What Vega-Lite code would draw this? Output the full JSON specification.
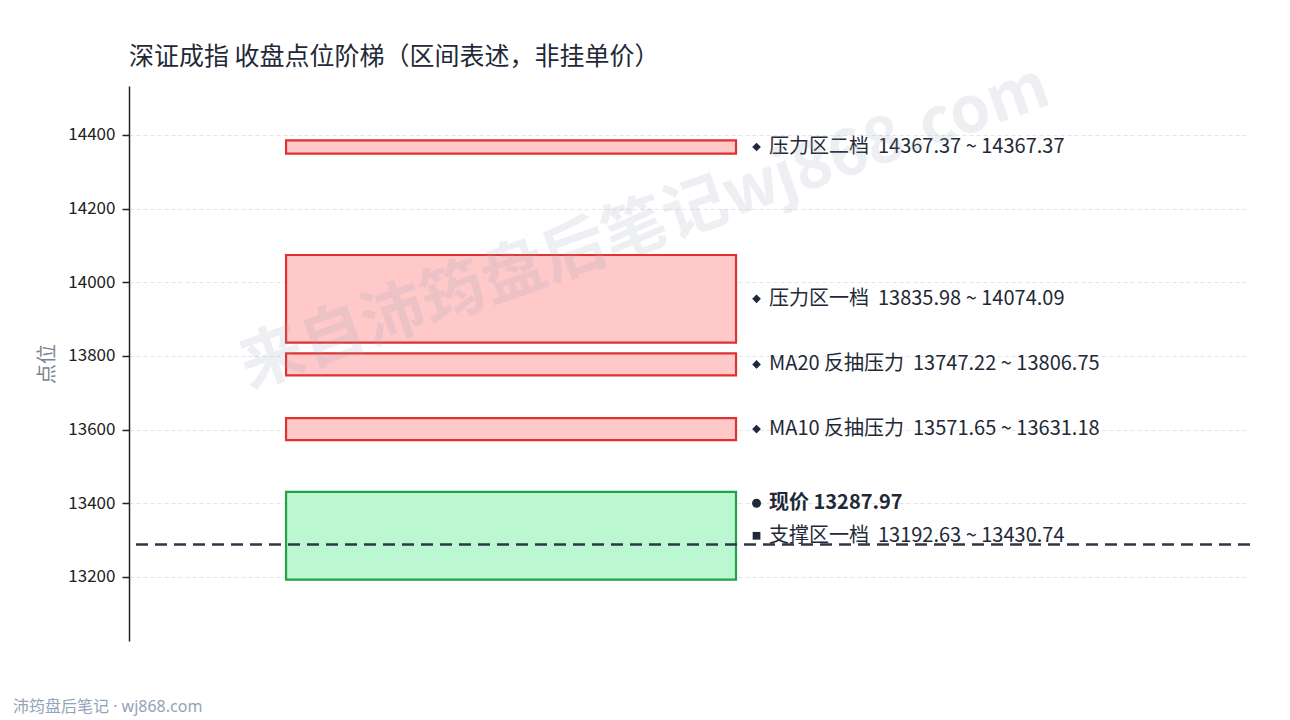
{
  "$schema": "https://vega.github.io/schema/vega-lite/v6.json",
  "width": 1121,
  "height": 555,
  "autosize": {"type": "none"},
  "padding": {"left": 129, "top": 86, "right": 40, "bottom": 79},
  "background": "white",
  "config": {
    "font": "Noto Sans CJK SC",
    "view": {"stroke": null},
    "axisY": {
      "domainColor": "#222222",
      "domainWidth": 1.5,
      "tickColor": "#222222",
      "tickWidth": 1.5,
      "tickSize": 7,
      "labelFontSize": 17,
      "labelColor": "#222222",
      "labelPadding": 7,
      "labelFont": "Noto Sans CJK SC",
      "gridColor": "#e2e4e8",
      "gridDash": [4, 3],
      "gridWidth": 1,
      "titleFontSize": 20,
      "titleFontWeight": "normal",
      "titleColor": "#7b8494",
      "titleFont": "Noto Sans CJK SC",
      "titlePadding": 10
    }
  },
  "title": {
    "text": "深证成指 收盘点位阶梯（区间表述，非挂单价）",
    "anchor": "start",
    "frame": "group",
    "fontSize": 25,
    "font": "Noto Sans CJK SC",
    "fontWeight": "normal",
    "color": "#1f2937",
    "offset": 18,
    "dy": 32
  },
  "datasets": {
    "zones": [
      {"name": "压力区二档", "lo": 14367.37, "hi": 14367.37, "bar_lo": 14349.6, "bar_hi": 14385.1, "kind": "resist", "label": "压力区二档 \u00a014367.37 ~ 14367.37", "label_y": 14367.37},
      {"name": "压力区一档", "lo": 13835.98, "hi": 14074.09, "bar_lo": 13835.98, "bar_hi": 14074.09, "kind": "resist", "label": "压力区一档 \u00a013835.98 ~ 14074.09", "label_y": 13955.0},
      {"name": "MA20 反抽压力", "lo": 13747.22, "hi": 13806.75, "bar_lo": 13747.22, "bar_hi": 13806.75, "kind": "resist", "label": "MA20 反抽压力 \u00a013747.22 ~ 13806.75", "label_y": 13777.0},
      {"name": "MA10 反抽压力", "lo": 13571.65, "hi": 13631.18, "bar_lo": 13571.65, "bar_hi": 13631.18, "kind": "resist", "label": "MA10 反抽压力 \u00a013571.65 ~ 13631.18", "label_y": 13601.4},
      {"name": "支撑区一档", "lo": 13192.63, "hi": 13430.74, "bar_lo": 13192.63, "bar_hi": 13430.74, "kind": "support", "label": "支撑区一档 \u00a013192.63 ~ 13430.74", "label_y": 13311.7}
    ],
    "price": [
      {"name": "现价", "value": 13287.97, "kind": "price", "label": "现价 13287.97", "label_y": 13400}
    ],
    "watermark": [
      {"text": "来自沛筠盘后笔记wj868.com", "x": 0.4603, "y": 14147}
    ],
    "footer": [
      {"text": "沛筠盘后笔记 · wj868.com", "x": -0.1035, "y": 12847}
    ]
  },
  "layer": [
    {
      "data": {"name": "zones"},
      "mark": {"type": "rect", "strokeWidth": 2.2},
      "encoding": {
        "x": {"datum": 0.1401, "type": "quantitative", "scale": {"domain": [0, 1]}, "axis": null},
        "x2": {"datum": 0.5415},
        "y": {
          "field": "bar_lo", "type": "quantitative", "title": "点位",
          "scale": {"domain": [13026, 14533], "nice": false, "zero": false},
          "axis": {"values": [13200, 13400, 13600, 13800, 14000, 14200, 14400], "format": "d", "grid": true, "title": "点位"}
        },
        "y2": {"field": "bar_hi"},
        "fill": {"field": "kind", "type": "nominal", "scale": {"domain": ["resist", "support"], "range": ["#ffc9c9", "#bbf7d0"]}, "legend": null},
        "stroke": {"field": "kind", "type": "nominal", "scale": {"domain": ["resist", "support"], "range": ["#e03131", "#22a34a"]}, "legend": null}
      }
    },
    {
      "data": {"name": "price"},
      "mark": {"type": "rule", "color": "#2d3748", "strokeWidth": 2.3, "strokeDash": [12, 7]},
      "encoding": {
        "y": {"field": "value", "type": "quantitative", "title": "点位"}
      }
    },
    {
      "data": {"name": "zones"},
      "mark": {"type": "point", "shape": "diamond", "filled": true, "color": "#1f2937", "size": 75, "opacity": 1},
      "transform": [{"filter": "datum.kind === 'resist'"}],
      "encoding": {
        "x": {"datum": 0.5598, "type": "quantitative"},
        "y": {"field": "label_y", "type": "quantitative", "title": "点位"}
      }
    },
    {
      "data": {"name": "zones"},
      "mark": {"type": "point", "shape": "square", "filled": true, "color": "#1f2937", "size": 60, "opacity": 1},
      "transform": [{"filter": "datum.kind === 'support'"}],
      "encoding": {
        "x": {"datum": 0.5598, "type": "quantitative"},
        "y": {"field": "label_y", "type": "quantitative", "title": "点位"}
      }
    },
    {
      "data": {"name": "price"},
      "mark": {"type": "point", "shape": "circle", "filled": true, "color": "#1f2937", "size": 80, "opacity": 1},
      "encoding": {
        "x": {"datum": 0.5598, "type": "quantitative"},
        "y": {"field": "label_y", "type": "quantitative", "title": "点位"}
      }
    },
    {
      "data": {"name": "zones"},
      "mark": {"type": "text", "align": "left", "baseline": "middle", "fontSize": 20, "color": "#1f2937", "font": "Noto Sans CJK SC"},
      "encoding": {
        "x": {"datum": 0.5709, "type": "quantitative"},
        "y": {"field": "label_y", "type": "quantitative", "title": "点位"},
        "text": {"field": "label"}
      }
    },
    {
      "data": {"name": "price"},
      "mark": {"type": "text", "align": "left", "baseline": "middle", "fontSize": 20, "fontWeight": "bold", "color": "#1f2937", "font": "Noto Sans CJK SC"},
      "encoding": {
        "x": {"datum": 0.5709, "type": "quantitative"},
        "y": {"field": "label_y", "type": "quantitative", "title": "点位"},
        "text": {"field": "label"}
      }
    },
    {
      "data": {"name": "watermark"},
      "mark": {"type": "text", "align": "center", "baseline": "middle", "fontSize": 64, "fontWeight": "bold", "angle": -19.5, "color": "#94a3b8", "opacity": 0.16, "font": "Noto Sans CJK SC"},
      "encoding": {
        "x": {"field": "x", "type": "quantitative"},
        "y": {"field": "y", "type": "quantitative", "title": "点位"},
        "text": {"field": "text"}
      }
    },
    {
      "data": {"name": "footer"},
      "mark": {"type": "text", "align": "left", "baseline": "middle", "fontSize": 16, "color": "#94a3b8", "font": "Noto Sans, Noto Sans CJK SC"},
      "encoding": {
        "x": {"field": "x", "type": "quantitative"},
        "y": {"field": "y", "type": "quantitative", "title": "点位"},
        "text": {"field": "text"}
      }
    }
  ]
}
